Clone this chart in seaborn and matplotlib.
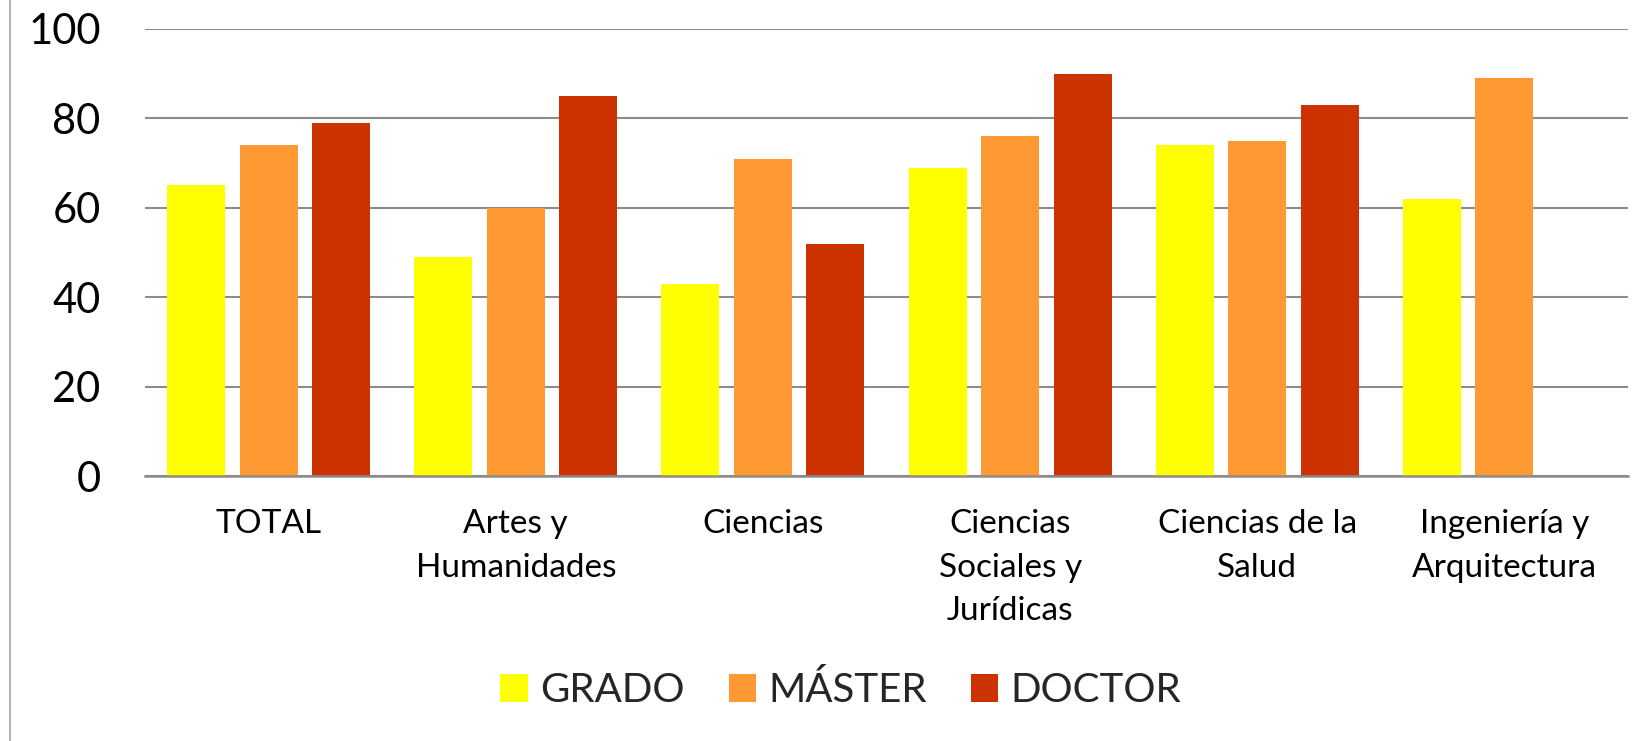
import pandas as pd
import numpy as np
import matplotlib
matplotlib.use("Agg")
import matplotlib.pyplot as plt
import seaborn as sns
from matplotlib.patches import Patch
from matplotlib.lines import Line2D

# Data
areas = ["TOTAL", "Artes y\nHumanidades", "Ciencias", "Ciencias\nSociales y\nJurídicas",
         "Ciencias de la\nSalud", "Ingeniería y\nArquitectura"]
grado = [65, 49, 43, 69, 74, 62]
master = [74, 60, 71, 76, 75, 89]
doctor = [79, 85, 52, 90, 83, np.nan]
levels = ["GRADO", "MÁSTER", "DOCTOR"]
colors = ["#FFFF00", "#FF9933", "#CC3300"]

df = pd.DataFrame({"area": areas, "GRADO": grado, "MÁSTER": master, "DOCTOR": doctor})
df = df.melt(id_vars="area", var_name="nivel", value_name="valor")

sns.set_theme(style="white")
plt.rcParams['font.family'] = ['Lato', 'DejaVu Sans']

fig = plt.figure(figsize=(16.52, 7.41), dpi=100)
ax = fig.add_axes([0.0878, 0.3576, 0.8977, 0.6033])

sns.barplot(data=df, x="area", y="valor", hue="nivel", order=areas, hue_order=levels,
            palette=colors, width=0.88, gap=0.2, saturation=1, linewidth=0, ax=ax,
            legend=False)

ax.set_ylim(0, 100)
ax.set_xlim(-0.5, len(areas) - 0.5)
ax.set_yticks(range(0, 101, 20))
ax.yaxis.grid(True, color="#8c8c8c", linewidth=1.5)
ax.set_axisbelow(True)
for s in ["left", "right", "top"]:
    ax.spines[s].set_visible(False)
ax.spines["bottom"].set_color("#8c8c8c")
ax.spines["bottom"].set_linewidth(1.8)
ax.tick_params(axis="y", length=0, pad=32, labelsize=30, labelcolor="black")
ax.tick_params(axis="x", length=0, pad=24, labelsize=24, labelcolor="black")
for lab in ax.get_xticklabels():
    lab.set_linespacing(1.55)
ax.set_xlabel("")
ax.set_ylabel("")

# frame edge on the left
fig.add_artist(Line2D([10 / 1652, 10 / 1652], [0, 1], color="#b4b4b4", linewidth=1.5,
                      transform=fig.transFigure))

handles = [Patch(facecolor=c, edgecolor="none", label=l) for c, l in zip(colors, levels)]
fig.legend(handles=handles, loc="center", bbox_to_anchor=(0.509, 0.069), ncol=3,
           frameon=False, fontsize=29, handlelength=0.68, handleheight=0.68,
           handletextpad=0.3, columnspacing=1.1)

fig.savefig("out.png", dpi=100)
